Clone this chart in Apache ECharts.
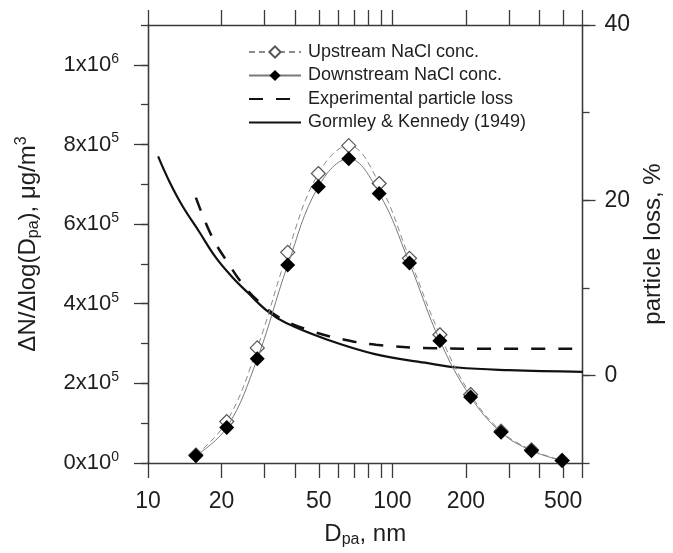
<!DOCTYPE html>
<html>
<head>
<meta charset="utf-8">
<script src="https://cdn.jsdelivr.net/npm/echarts@6/dist/echarts.min.js"></script>
<style>
  html, body { margin: 0; padding: 0; background: #fff; }
  #chart { width: 673px; height: 553px; }
</style>
</head>
<body>
<div id="chart"></div>
<script>
// Mobility diameters of the measured size bins (nm)
const diameters = [15.7, 21.0, 28.0, 37.3, 49.8, 66.3, 88.3, 117.5, 156.5, 209, 278.5, 371, 495];
// Size distributions upstream / downstream of the sampling line
const upstream = [20000, 104000, 289000, 529000, 727000, 797000, 702000, 514000, 322000, 172000, 80000, 33000, 6500];
const downstream = [18500, 89000, 262000, 497000, 694000, 764000, 677000, 502000, 307000, 166000, 77000, 31000, 6000];

// Measured particle loss, %
const expDiameters = [15.7, 18.3, 21.3, 24.9, 29.0, 35.0, 46.3, 63, 85.7, 149, 250, 600];
const expLoss = [20.3, 15.8, 12.8, 10.1, 8.2, 6.5, 5.1, 4.1, 3.5, 3.1, 3.05, 3.05];

// Diffusion loss after Gormley & Kennedy (1949), %
const gkDiameters = [11.0, 12.2, 13.8, 16.2, 18.9, 22.0, 25.7, 30.9, 36.6, 53.9, 85.7, 136, 185, 300, 600];
const gkLoss = [25.0, 22.2, 19.4, 16.4, 13.5, 11.3, 9.4, 7.3, 6.0, 4.1, 2.4, 1.45, 0.9, 0.6, 0.4];

// Axis ticks and labels
const xTicks = [10, 20, 30, 40, 50, 60, 70, 80, 90, 100, 200, 300, 400, 500, 600];
const xLabels = [10, 20, 50, 100, 200, 500];
const leftLabels = [0, 200000, 400000, 600000, 800000, 1000000];
const rightLabels = [0, 20, 40];

const pairs = (xs, ys) => xs.map((x, i) => [x, ys[i]]);

const FONT = '"Liberation Sans", Arial, Helvetica, sans-serif';
const INK = '#1e1e1e';
const AXIS = { color: '#3a3a3a', width: 1.3 };

const sciLabel = v => {
  const e = v === 0 ? 0 : Math.floor(Math.log10(v) + 1e-9);
  const m = Math.round(v / Math.pow(10, e));
  return '{b|' + m + 'x10}{s|' + e + '}';
};

const chart = echarts.init(document.getElementById('chart'), null, { renderer: 'canvas' });

chart.setOption({
  animation: false,
  backgroundColor: '#fff',
  textStyle: { fontFamily: FONT, color: INK },
  grid: { left: 148, right: 84, top: 25, bottom: 87 },
  legend: {
    orient: 'vertical',
    left: 248,
    top: 43,
    padding: 0,
    itemWidth: 52,
    itemHeight: 14,
    itemGap: 5.5,
    align: 'left',
    textStyle: { fontFamily: FONT, fontSize: 18, color: INK, padding: [0, 0, 0, 2] },
    data: [
      { name: 'Upstream NaCl conc.' },
      { name: 'Downstream NaCl conc.' },
      { name: 'Experimental particle loss', itemStyle: { opacity: 0 } },
      { name: 'Gormley & Kennedy (1949)', itemStyle: { opacity: 0 } }
    ]
  },
  xAxis: [
    {
      type: 'log', logBase: 10, min: 10, max: 600, position: 'bottom',
      axisLine: { onZero: false, lineStyle: AXIS },
      axisTick: { customValues: xTicks, length: 15, lineStyle: AXIS },
      axisLabel: {
        customValues: xLabels, fontSize: 23, margin: 27, color: INK, fontFamily: FONT,
        formatter: v => String(Math.round(v))
      },
      splitLine: { show: false },
      minorTick: { show: false },
      name: '{d|D}{s|pa}{d|, nm}',
      nameLocation: 'middle',
      nameGap: 57,
      nameTextStyle: {
        rich: {
          d: { fontSize: 24, fontFamily: FONT, color: INK, lineHeight: 28 },
          s: { fontSize: 16, fontFamily: FONT, color: INK, verticalAlign: 'bottom', lineHeight: 28 }
        }
      }
    },
    {
      type: 'log', logBase: 10, min: 10, max: 600, position: 'top',
      axisLine: { onZero: false, lineStyle: AXIS },
      axisTick: { customValues: xTicks, length: 15, lineStyle: AXIS },
      axisLabel: { show: false },
      splitLine: { show: false }
    }
  ],
  yAxis: [
    {
      // minor ticks of the concentration axis
      type: 'value', position: 'left', min: 0, max: 1100000, interval: 100000,
      axisLine: { show: true, onZero: false, lineStyle: AXIS },
      axisTick: { length: 7, lineStyle: AXIS },
      axisLabel: { show: false },
      splitLine: { show: false }
    },
    {
      type: 'value', position: 'left', min: 0, max: 1100000,
      axisLine: { show: true, onZero: false, lineStyle: AXIS },
      axisTick: { customValues: leftLabels, length: 14, lineStyle: AXIS },
      axisLabel: {
        customValues: leftLabels, margin: 29, formatter: sciLabel,
        rich: {
          b: { fontSize: 22, fontFamily: FONT, color: INK, lineHeight: 26 },
          s: { fontSize: 14, fontFamily: FONT, color: INK, verticalAlign: 'top', lineHeight: 26 }
        }
      },
      splitLine: { show: false },
      name: '{n|ΔN/Δlog(D}{b|pa}{n|), μg/m}{t|3}',
      nameLocation: 'middle',
      nameRotate: 90,
      nameGap: 106,
      nameTextStyle: {
        rich: {
          n: { fontSize: 24, fontFamily: FONT, color: INK, lineHeight: 28 },
          b: { fontSize: 16, fontFamily: FONT, color: INK, verticalAlign: 'bottom', lineHeight: 28 },
          t: { fontSize: 16, fontFamily: FONT, color: INK, verticalAlign: 'top', lineHeight: 28 }
        }
      }
    },
    {
      // minor ticks of the particle loss axis
      type: 'value', position: 'right', min: -10, max: 40, interval: 10,
      axisLine: { show: true, onZero: false, lineStyle: AXIS },
      axisTick: { inside: false, length: 7, lineStyle: AXIS },
      axisLabel: { show: false },
      splitLine: { show: false }
    },
    {
      type: 'value', position: 'right', min: -10, max: 40,
      axisLine: { show: true, onZero: false, lineStyle: AXIS },
      axisTick: { customValues: rightLabels, length: 13, lineStyle: AXIS },
      axisLabel: { customValues: rightLabels, margin: 22, fontSize: 23, color: INK, fontFamily: FONT },
      splitLine: { show: false },
      name: 'particle loss, %',
      nameLocation: 'middle',
      nameRotate: 90,
      nameGap: 46,
      nameTextStyle: { fontSize: 24, fontFamily: FONT, color: INK }
    }
  ],
  series: [
    {
      name: 'Upstream NaCl conc.',
      type: 'line', xAxisIndex: 0, yAxisIndex: 1,
      data: pairs(diameters, upstream),
      smooth: 0.4,
      symbol: 'diamond', symbolSize: 14,
      itemStyle: { color: '#ffffff', borderColor: '#555', borderWidth: 1.2 },
      lineStyle: { color: '#8a8a8a', width: 1, type: [6, 4] },
      z: 3
    },
    {
      name: 'Downstream NaCl conc.',
      type: 'line', xAxisIndex: 0, yAxisIndex: 1,
      data: pairs(diameters, downstream),
      smooth: 0.4,
      symbol: 'diamond', symbolSize: 15,
      itemStyle: { color: '#000000', borderColor: '#000', borderWidth: 0 },
      lineStyle: { color: '#7a7a7a', width: 1 },
      z: 4
    },
    {
      name: 'Experimental particle loss',
      type: 'line', xAxisIndex: 0, yAxisIndex: 3,
      data: pairs(expDiameters, expLoss),
      smooth: 0.4,
      showSymbol: false, symbol: 'circle',
      itemStyle: { color: '#111' },
      lineStyle: { color: '#111', width: 2.5, type: [14, 13] },
      z: 2
    },
    {
      name: 'Gormley & Kennedy (1949)',
      type: 'line', xAxisIndex: 0, yAxisIndex: 3,
      data: pairs(gkDiameters, gkLoss),
      smooth: 0.4,
      showSymbol: false, symbol: 'circle',
      itemStyle: { color: '#111' },
      lineStyle: { color: '#111', width: 2.2 },
      z: 2
    }
  ]
});
</script>
</body>
</html>
